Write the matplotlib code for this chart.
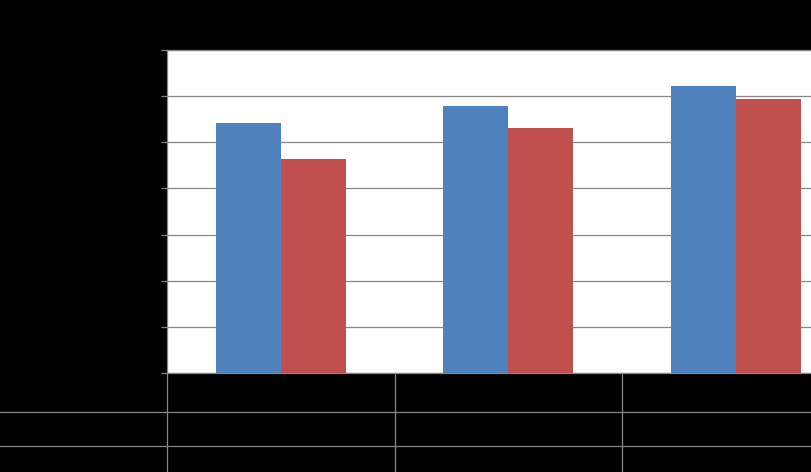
import matplotlib
matplotlib.use('Agg')
from matplotlib import pyplot as plt
from matplotlib.lines import Line2D
from matplotlib import transforms
import numpy as np

# 数据
categories = ['1', '2', '3']
series_a = [5.42, 5.79, 6.22]
series_b = [4.64, 5.31, 5.94]
y_ticks = [0, 1, 2, 3, 4, 5, 6, 7]

W, H = 811, 472
fig = plt.figure(figsize=(W / 100, H / 100), dpi=100, facecolor='black')

# 绘图区 (右边超出画面，和原图一样被裁掉)
left, bottom = 167 / W, 99 / H
ax = fig.add_axes([left, bottom, 682.5 / W, 323 / H], facecolor='white')

x = np.arange(len(categories))
w = 1 / 3.5
ax.bar(x - w / 2, series_a, width=w, color='#4F81BD', zorder=3)
ax.bar(x + w / 2, series_b, width=w, color='#C0504D', zorder=3)

grey = '#868686'
ax.set_xlim(-0.5, 2.5)
ax.set_ylim(0, 7)
ax.set_yticks(y_ticks)
ax.set_yticklabels([])
ax.set_xticks([])
ax.yaxis.grid(True, color=grey, linewidth=0.9, zorder=0)
ax.tick_params(axis='y', direction='out', length=4.3, width=0.9, color=grey)
for s in ['left', 'bottom', 'top']:
    ax.spines[s].set_color(grey)
    ax.spines[s].set_linewidth(0.9)
ax.spines['right'].set_visible(False)

# 数据表的格线
trans = transforms.blended_transform_factory(ax.transData, fig.transFigure)
for xv in [-0.5, 0.5, 1.5]:
    fig.add_artist(Line2D([xv, xv], [0, bottom], transform=trans,
                          color=grey, linewidth=0.9))
for yp in [412, 446]:
    yf = (H - yp) / H
    fig.add_artist(Line2D([0, 1], [yf, yf], transform=fig.transFigure,
                          color=grey, linewidth=0.9))

fig.savefig('out.png', dpi=100, facecolor='black')
